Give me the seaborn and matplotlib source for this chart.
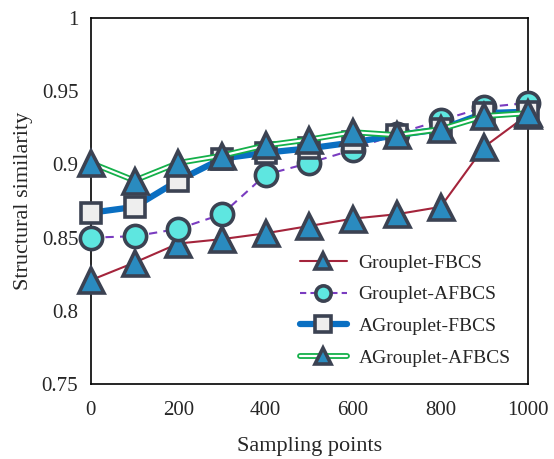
import numpy as np
import pandas as pd
import seaborn as sns
import matplotlib.pyplot as plt
from matplotlib.lines import Line2D
from matplotlib.legend_handler import HandlerTuple

# values
points = [0, 100, 200, 300, 400, 500, 600, 700, 800, 900, 1000]
grouplet_fbcs = [0.821, 0.833, 0.846, 0.849, 0.853, 0.858, 0.863, 0.866, 0.871, 0.912, 0.934]
grouplet_afbcs = [0.850, 0.851, 0.856, 0.866, 0.893, 0.901, 0.910, 0.921, 0.930, 0.939, 0.942]
agrouplet_fbcs = [0.867, 0.871, 0.889, 0.904, 0.908, 0.911, 0.915, 0.920, 0.924, 0.935, 0.936]
agrouplet_afbcs = [0.901, 0.889, 0.901, 0.906, 0.913, 0.917, 0.922, 0.920, 0.924, 0.933, 0.935]
labels = ['Grouplet-FBCS', 'Grouplet-AFBCS', 'AGrouplet-FBCS', 'AGrouplet-AFBCS']
yticks = [0.75, 0.8, 0.85, 0.9, 0.95, 1]
yticklabels = ['0.75', '0.8', '0.85', '0.9', '0.95', '1']

sns.set_style('white')
plt.rcParams['font.family'] = ['Liberation Serif', 'DejaVu Serif']

edge = '#3b4252'
tri_fill = '#2a8bbf'
mk = dict(markeredgecolor=edge, markeredgewidth=2.6, clip_on=False)

fig = plt.figure(figsize=(5.54, 4.59), dpi=100)
ax = fig.add_axes([0.164, 0.163, 0.789, 0.798])

# Grouplet-FBCS
sns.lineplot(x=points, y=grouplet_fbcs, ax=ax, color='#a4243b', lw=1.5,
             marker='^', markersize=18, markerfacecolor=tri_fill, zorder=3, **mk)
# Grouplet-AFBCS
sns.lineplot(x=points, y=grouplet_afbcs, ax=ax, color='#7a3cc0', lw=1.5,
             linestyle=(0, (4, 3)), marker='o', markersize=16,
             markerfacecolor='#5ee6e0', zorder=4, **mk)
# AGrouplet-FBCS
sns.lineplot(x=points, y=agrouplet_fbcs, ax=ax, color='#0a6fc2', lw=4.5,
             marker='s', markersize=15, markerfacecolor='#eeeeee', zorder=5, **mk)
# AGrouplet-AFBCS: double green line
sns.lineplot(x=points, y=agrouplet_afbcs, ax=ax, color='#14b04a', lw=4.2, zorder=6)
sns.lineplot(x=points, y=agrouplet_afbcs, ax=ax, color='white', lw=1.6, zorder=6.1)
sns.lineplot(x=points, y=agrouplet_afbcs, ax=ax, lw=0, marker='^',
             markersize=18, markerfacecolor=tri_fill, zorder=7, **mk)

ax.set_xlim(0, 1000)
ax.set_ylim(0.75, 1)
ax.set_xticks([0, 200, 400, 600, 800, 1000])
ax.set_yticks(yticks)
ax.set_yticklabels(yticklabels)
ax.tick_params(axis='x', direction='in', length=6, width=1, pad=12, labelsize=15)
ax.tick_params(axis='y', length=0, pad=9, labelsize=15)
for s in ax.spines.values():
    s.set_color('black')
    s.set_linewidth(1.2)
ax.set_xlabel('Sampling points', fontsize=16, labelpad=12)
ax.set_ylabel('Structural similarity', fontsize=16, labelpad=6)

# legend handles
h1 = Line2D([], [], color='#a4243b', lw=1.5, marker='^', markersize=12,
            markerfacecolor=tri_fill, markeredgecolor=edge, markeredgewidth=2.6)
h2 = Line2D([], [], color='#7a3cc0', lw=1.5, linestyle=(0, (3, 2)), marker='o',
            markersize=11, markerfacecolor='#5ee6e0', markeredgecolor=edge,
            markeredgewidth=2.6)
h3 = Line2D([], [], color='#0a6fc2', lw=4.5, marker='s', markersize=11,
            markerfacecolor='#eeeeee', markeredgecolor=edge, markeredgewidth=2.6)
h4a = Line2D([], [], color='#14b04a', lw=4.2)
h4b = Line2D([], [], color='white', lw=1.6)
h4c = Line2D([], [], lw=0, marker='^', markersize=12, markerfacecolor=tri_fill,
             markeredgecolor=edge, markeredgewidth=2.6)
ax.legend([h1, h2, h3, (h4a, h4b, h4c)], labels,
          handler_map={tuple: HandlerTuple(ndivide=1, pad=0)},
          loc='lower right', bbox_to_anchor=(1.0, 0.0), frameon=False,
          fontsize=14, handlelength=2.4, labelspacing=0.72, handletextpad=0.6)

fig.savefig('out.png', dpi=100)
